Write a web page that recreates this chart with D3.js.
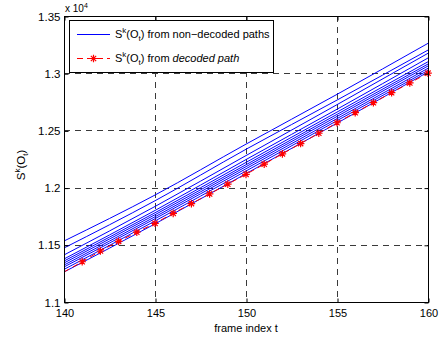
<!DOCTYPE html>
<html><head><meta charset="utf-8">
<script src="https://cdn.jsdelivr.net/npm/d3@7"></script>
<style>body{margin:0;background:#fff}svg{display:block}text{font-family:"Liberation Sans",Arial,sans-serif}</style>
</head><body>
<svg id="c" width="443" height="340"></svg>
<script>
// Data
const xTicks = [140, 145, 150, 155, 160];
const yTicks = [11000, 11500, 12000, 12500, 13000, 13500];
const yTickLabels = ["1.1", "1.15", "1.2", "1.25", "1.3", "1.35"];
const blueFrames = [140, 145, 150, 155, 160];
const blue1  = [11533, 11935, 12380, 12815, 13261];
const blue2  = [11472, 11885, 12335, 12765, 13202];
const blue3  = [11411, 11835, 12280, 12725, 13174];
const blue4  = [11376, 11800, 12245, 12685, 13133];
const blue5  = [11358, 11780, 12220, 12660, 13100];
const blue6  = [11341, 11763, 12200, 12640, 13080];
const blue7  = [11323, 11745, 12183, 12622, 13063];
const blue8  = [11306, 11728, 12165, 12603, 13043];
const blue9  = [11285, 11708, 12145, 12585, 13025];
const blue10 = [11262, 11683, 12122, 12563, 13010];
const blueSeries = [blue1, blue2, blue3, blue4, blue5, blue6, blue7, blue8, blue9, blue10];
const redFrames = [140,141,142,143,144,145,146,147,148,149,150,151,152,153,154,155,156,157,158,159,160];
const redValues = [11262,11352,11446,11530,11610,11688,11775,11860,11945,12030,12116,12205,12295,12385,12475,12567,12655,12742,12830,12915,13000];

const svg = d3.select("#c");
const L = 64, R = 428, T = 16, B = 302;
const x = d3.scaleLinear().domain([140, 160]).range([L, R]);
const y = d3.scaleLinear().domain([11000, 13500]).range([B, T]);

// grid
const grid = svg.append("g").attr("stroke", "#3a3a3a").attr("stroke-width", 1).attr("stroke-dasharray", "6,5");
grid.selectAll("line.v").data(xTicks.slice(1, -1)).enter().append("line")
  .attr("x1", d => Math.round(x(d)) + 0.5).attr("x2", d => Math.round(x(d)) + 0.5)
  .attr("y1", T).attr("y2", B);
grid.selectAll("line.h").data(yTicks.slice(1, -1)).enter().append("line")
  .attr("y1", d => Math.round(y(d)) + 0.5).attr("y2", d => Math.round(y(d)) + 0.5)
  .attr("x1", L).attr("x2", R);

// clip
svg.append("clipPath").attr("id", "clip").append("rect").attr("x", L).attr("y", T).attr("width", R - L).attr("height", B - T);
const plot = svg.append("g").attr("clip-path", "url(#clip)");

const line = d3.line().x(d => x(d[0])).y(d => y(d[1])).curve(d3.curveMonotoneX);
blueSeries.forEach(s => {
  plot.append("path").attr("d", line(blueFrames.map((f, i) => [f, s[i]])))
    .attr("fill", "none").attr("stroke", "#0000ff").attr("stroke-width", 1);
});
const redLine = d3.line().x(d => x(d[0])).y(d => y(d[1]));
const redPts = redFrames.map((f, i) => [f, redValues[i]]);
plot.append("path").attr("d", redLine(redPts))
  .attr("fill", "none").attr("stroke", "#ff0000").attr("stroke-width", 1).attr("stroke-dasharray", "6,4");

function star(g, cx, cy, r) {
  const d = `M${cx - r},${cy}L${cx + r},${cy}M${cx},${cy - r}L${cx},${cy + r}` +
    `M${cx - r * 0.7},${cy - r * 0.7}L${cx + r * 0.7},${cy + r * 0.7}M${cx - r * 0.7},${cy + r * 0.7}L${cx + r * 0.7},${cy - r * 0.7}`;
  g.append("path").attr("d", d).attr("stroke", "#ff0000").attr("stroke-width", 1.2).attr("fill", "none");
}
const markers = svg.append("g");
redPts.filter(p => p[0] > 140).forEach(p => star(markers, x(p[0]), y(p[1]), 3.8));

// axes box
svg.append("rect").attr("x", L + 0.5).attr("y", T + 0.5).attr("width", R - L).attr("height", B - T)
  .attr("fill", "none").attr("stroke", "#000").attr("stroke-width", 1);

// ticks (inward, Matlab style)
const xAxisB = d3.axisBottom(x).tickValues(xTicks).tickSize(-4).tickPadding(7).tickFormat(d3.format("d"));
const gx = svg.append("g").attr("transform", `translate(0.5,${B + 0.5})`).call(xAxisB);
gx.select(".domain").remove();
gx.selectAll("text").attr("font-size", 11).attr("font-family", "Liberation Sans, Arial, sans-serif").attr("fill", "#000");
const xAxisT = d3.axisTop(x).tickValues(xTicks).tickSize(-4).tickFormat("");
const gxt = svg.append("g").attr("transform", `translate(0.5,${T + 0.5})`).call(xAxisT);
gxt.select(".domain").remove();

const yAxisL = d3.axisLeft(y).tickValues(yTicks).tickSize(-4).tickPadding(4).tickFormat((d, i) => yTickLabels[i]);
const gy = svg.append("g").attr("transform", `translate(${L + 0.5},0.5)`).call(yAxisL);
gy.select(".domain").remove();
gy.selectAll("text").attr("font-size", 11.5).attr("font-family", "Liberation Sans, Arial, sans-serif").attr("fill", "#000");
const yAxisR = d3.axisRight(y).tickValues(yTicks).tickSize(-4).tickFormat("");
const gyr = svg.append("g").attr("transform", `translate(${R + 0.5},0.5)`).call(yAxisR);
gyr.select(".domain").remove();

// exponent label
const ex = svg.append("text").attr("x", 65).attr("y", 12).attr("font-size", 10);
ex.append("tspan").text("x 10");
ex.append("tspan").attr("font-size", 7).attr("dy", -4).text("4");

// x label
svg.append("text").attr("x", (L + R) / 2).attr("y", 332).attr("text-anchor", "middle").attr("font-size", 11).text("frame index t");

// y label
const yl = svg.append("text").attr("transform", `translate(25,165) rotate(-90)`).attr("text-anchor", "middle").attr("font-size", 11.5);
yl.append("tspan").text("S");
yl.append("tspan").attr("font-size", 8).attr("dy", -5).text("k");
yl.append("tspan").attr("dy", 5).text("(O");
yl.append("tspan").attr("font-size", 8).attr("dy", 3).text("t");
yl.append("tspan").attr("dy", -3).text(")");

// legend
const lg = svg.append("g");
lg.append("rect").attr("x", 69.5).attr("y", 20.5).attr("width", 204).attr("height", 52).attr("fill", "#fff").attr("stroke", "#000");
lg.append("line").attr("x1", 77).attr("x2", 110).attr("y1", 34.5).attr("y2", 34.5).attr("stroke", "#0000ff");
lg.append("line").attr("x1", 77).attr("x2", 110).attr("y1", 58.5).attr("y2", 58.5).attr("stroke", "#ff0000").attr("stroke-dasharray", "6,4");
star(lg, 93.5, 58.5, 3.8);
function legText(yy, parts) {
  const t = lg.append("text").attr("x", 115).attr("y", yy).attr("font-size", 11);
  t.append("tspan").text("S");
  t.append("tspan").attr("font-size", 8).attr("dy", -5).text("k");
  t.append("tspan").attr("dy", 5).text("(O");
  t.append("tspan").attr("font-size", 8).attr("dy", 3).text("t");
  t.append("tspan").attr("dy", -3).text(")");
  parts.forEach(p => { const s = t.append("tspan").text(p[0]); if (p[1]) s.attr("font-style", "italic"); });
}
legText(38, [[" from non\u2212decoded paths", false]]);
legText(62, [[" from ", false], ["decoded path", true]]);
</script>
</body></html>
